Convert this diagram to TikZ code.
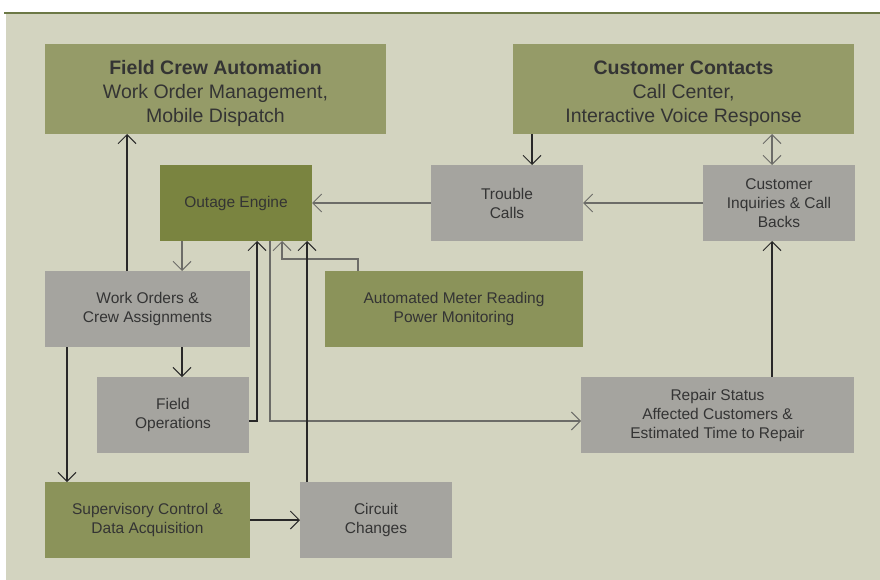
\documentclass[tikz,border=0pt]{standalone}
\usepackage{fontspec}
\setmainfont{Liberation Sans}
\usetikzlibrary{arrows.meta}

\definecolor{panel}{RGB}{211,212,192}
\definecolor{ruleline}{RGB}{108,120,70}
\definecolor{headgreen}{RGB}{149,155,104}
\definecolor{enginegreen}{RGB}{122,132,64}
\definecolor{srcgreen}{RGB}{139,147,90}
\definecolor{procgray}{RGB}{165,164,159}
\definecolor{ink}{RGB}{52,52,52}
\definecolor{wiredark}{RGB}{40,40,40}
\definecolor{wiregray}{RGB}{108,108,104}

\begin{document}
\begin{tikzpicture}[x=1pt,y=-1pt,
  box/.style={inner sep=0pt, outer sep=0pt, align=center, text=ink,
    minimum width=152pt, minimum height=76pt,
    font=\fontsize{15.5}{19}\selectfont},
  head/.style={box, fill=headgreen, minimum width=341pt, minimum height=90pt,
    font=\fontsize{19.5}{24}\selectfont},
  engine/.style={box, fill=enginegreen},
  source/.style={box, fill=srcgreen},
  proc/.style={box, fill=procgray},
  barb/.tip={Straight Barb[length=9pt,width=18pt,line width=1pt]},
  wire/.style={line width=1.3pt, draw=wiredark, -barb},
  wiregr/.style={line width=1.6pt, draw=wiregray, -barb},
]
\useasboundingbox (0,0) rectangle (880,580);
\fill[white] (0,0) rectangle (880,580);
\fill[panel] (6,13) rectangle (880,580);
\draw[ruleline, line width=1.6pt] (4,13) -- (880,13);

% top row
\node[head] (fca) at (215.5,89) {\rule{0pt}{24pt}\textbf{Field Crew Automation}\\Work Order Management,\\Mobile Dispatch};
\node[head] (cc) at (683.5,89) {\rule{0pt}{24pt}\textbf{Customer Contacts}\\Call Center,\\Interactive Voice Response};

% second row
\node[engine] (oe) at (236,203) {Outage Engine};
\node[proc] (tc) at (507,203) {Trouble\\Calls};
\node[proc] (ci) at (779,203) {Customer\\Inquiries \& Call\\Backs};

% third row
\node[proc, minimum width=205pt] (wo) at (147.5,309) {Work Orders \&\\Crew Assignments};
\node[source, minimum width=258pt] (amr) at (454,309) {Automated Meter Reading\\Power Monitoring};

% fourth row
\node[proc] (fo) at (173,415) {Field\\Operations};
\node[proc, minimum width=273pt] (rs) at (717.5,415) {Repair Status\\Affected Customers \&\\Estimated Time to Repair};

% bottom row
\node[source, minimum width=205pt] (sc) at (147.5,520) {Supervisory Control \&\\Data Acquisition};
\node[proc] (chg) at (376,520) {Circuit\\Changes};

% connector anchor points along box edges
\coordinate (woUp)   at ([xshift=82pt]wo.north west);
\coordinate (oeDn)   at ([xshift=22pt]oe.south west);
\coordinate (ccDn)   at ([xshift=101pt]tc.north west);
\coordinate (ciUp)   at ([xshift=69pt]ci.north west);
\coordinate (ciDn)   at ([xshift=69pt]ci.south west);
\coordinate (foIn)   at ([xshift=85pt]fo.north west);
\coordinate (woDn)   at ([xshift=22pt]wo.south west);
\coordinate (foOut)  at ([yshift=-6pt]fo.east);
\coordinate (oeFo)   at ([xshift=97pt]oe.south west);
\coordinate (oeRs)   at ([xshift=110pt]oe.south west);
\coordinate (rsIn)   at ([yshift=-6pt]rs.west);
\coordinate (amrUp)  at ([xshift=33pt]amr.north west);
\coordinate (amrBend)at ([yshift=12pt]amrUp);
\coordinate (oeAmr)  at ([xshift=122pt]oe.south west);
\coordinate (oeChg)  at ([xshift=147pt]oe.south west);

% connectors
\draw[wire]   (woUp) -- (woUp |- fca.south);
\draw[wiregr] (oeDn) -- (oeDn |- wo.north);
\draw[wiregr] (tc.west) -- (oe.east);
\draw[wire]   (ccDn |- cc.south) -- (ccDn);
\draw[wiregr, barb-barb] (ciUp |- cc.south) -- (ciUp);
\draw[wire]   (ciDn |- rs.north) -- (ciDn);
\draw[wiregr] (ci.west) -- (tc.east);
\draw[wire]   (foIn |- wo.south) -- (foIn);
\draw[wire]   (woDn) -- (woDn |- sc.north);
\draw[wire]   (sc.east) -- (chg.west);
\draw[wire]   (foOut) -| (oeFo);
\draw[wiregr] (oeRs) |- (rsIn);
\draw[wiregr] (amrUp) -- (amrBend) -| (oeAmr);
\draw[wire]   (oeChg |- chg.north) -- (oeChg);
\end{tikzpicture}
\end{document}
